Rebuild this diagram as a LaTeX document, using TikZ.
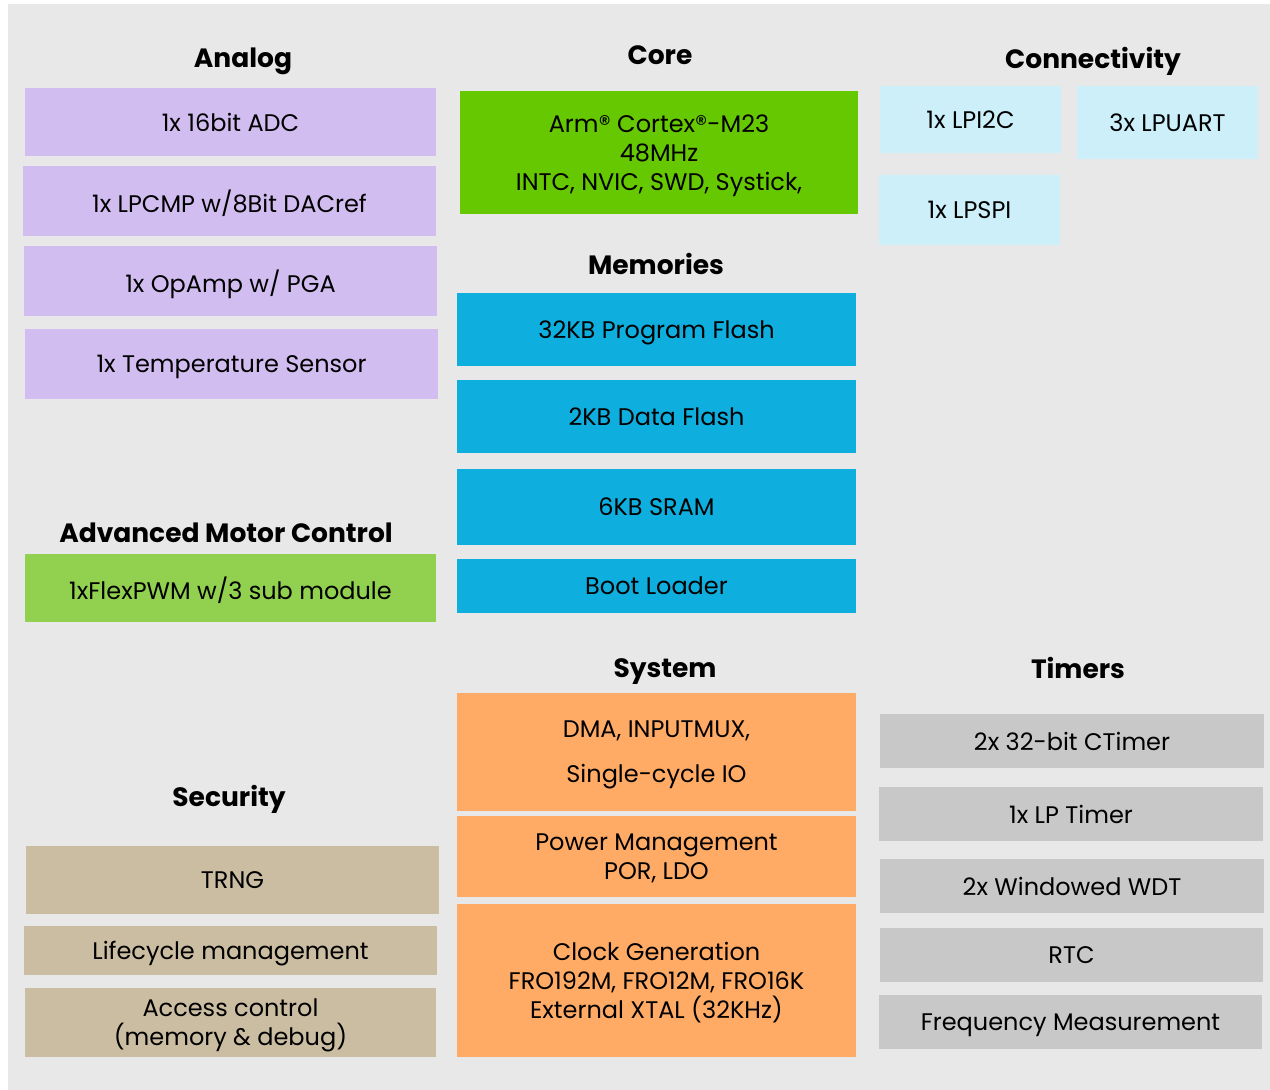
\documentclass[tikz,border=0pt]{standalone}
\usepackage{fontspec}
\setmainfont{Poppins}
\usepackage{xcolor}
\definecolor{mybg}{RGB}{232,232,232}
\definecolor{mypurple}{RGB}{210,189,240}
\definecolor{mycore}{RGB}{102,200,0}
\definecolor{mypwm}{RGB}{146,208,80}
\definecolor{myblue}{RGB}{14,174,222}
\definecolor{mylblue}{RGB}{204,239,250}
\definecolor{myorange}{RGB}{255,171,102}
\definecolor{mytan}{RGB}{203,189,161}
\definecolor{mygray}{RGB}{200,200,200}

\begin{document}
\begin{tikzpicture}[x=1pt,y=-1pt,
  blk/.style={inner sep=0pt, align=center, text depth=0pt, font=\fontsize{24}{29}\selectfont},
  ttl/.style={inner sep=0pt, text depth=0pt, font=\fontsize{26.5}{29}\selectfont\bfseries}]
\useasboundingbox (0,0) rectangle (1270,1090);
%background
\fill[mybg] (8,4) rectangle (1270,1090);

%analog
\node[ttl] (analog) at (243,58) {Analog};
\node[blk, fill=mypurple, minimum width=411pt, minimum height=68pt] (adc) at (230.5,122) {1x 16bit ADC};
\node[blk, fill=mypurple, minimum width=413pt, minimum height=70pt] (lpcmp) at (229.5,201) {1x LPCMP w/8Bit DACref};
\node[blk, fill=mypurple, minimum width=413pt, minimum height=70pt] (opamp) at (230.5,281) {1x OpAmp w/ PGA};
\node[blk, fill=mypurple, minimum width=413pt, minimum height=70pt] (tsens) at (231.5,364) {1x Temperature Sensor};

%motor control
\node[ttl] (motor) at (226,533) {Advanced Motor Control};
\node[blk, fill=mypwm, minimum width=411pt, minimum height=68pt] (pwm) at (230.5,588) {1xFlexPWM w/3 sub module};

%security
\node[ttl] (security) at (229,796) {Security};
\node[blk, fill=mytan, minimum width=413pt, minimum height=68pt] (trng) at (232.5,880) {TRNG};
\node[blk, fill=mytan, minimum width=413pt, minimum height=49pt] (life) at (230.5,950.5) {Lifecycle management};
\node[blk, fill=mytan, minimum width=411pt, minimum height=69pt] (access) at (230.5,1022.5) {Access control\\(memory \& debug)};

%core
\node[ttl] (core) at (660,55) {Core};
\node[blk, fill=mycore, minimum width=398pt, minimum height=123pt] (cpu) at (659,152.5) {Arm® Cortex®-M23\\48MHz\\INTC, NVIC, SWD, Systick,};

%memories
\node[ttl] (memories) at (656,264) {Memories};
\node[blk, fill=myblue, minimum width=399pt, minimum height=73pt] (pflash) at (656.5,329.5) {32KB Program Flash};
\node[blk, fill=myblue, minimum width=399pt, minimum height=73pt] (dflash) at (656.5,416.5) {2KB Data Flash};
\node[blk, fill=myblue, minimum width=399pt, minimum height=76pt] (sram) at (656.5,507) {6KB SRAM};
\node[blk, fill=myblue, minimum width=399pt, minimum height=54pt] (boot) at (656.5,586) {Boot Loader};

%system
\node[ttl] (system) at (665,668) {System};
\node[blk, fill=myorange, minimum width=399pt, minimum height=118pt] (dma) at (656.5,752) {DMA, INPUTMUX,\\[16pt]Single-cycle IO};
\node[blk, fill=myorange, minimum width=399pt, minimum height=81pt] (power) at (656.5,856.5) {Power Management\\POR, LDO};
\node[blk, fill=myorange, minimum width=399pt, minimum height=153pt] (clock) at (656.5,980.5) {Clock Generation\\FRO192M, FRO12M, FRO16K\\External XTAL (32KHz)};

%connectivity
\node[ttl] (conn) at (1093,58) {Connectivity};
\node[blk, fill=mylblue, minimum width=181pt, minimum height=67pt] (i2c) at (970.5,119.5) {1x LPI2C};
\node[blk, fill=mylblue, minimum width=181pt, minimum height=73pt] (uart) at (1167.5,122.5) {3x LPUART};
\node[blk, fill=mylblue, minimum width=181pt, minimum height=70pt] (spi) at (969.5,210) {1x LPSPI};

%timers
\node[ttl] (timers) at (1078,668) {Timers};
\node[blk, fill=mygray, minimum width=384pt, minimum height=54pt] (ctimer) at (1072,741) {2x 32-bit CTimer};
\node[blk, fill=mygray, minimum width=384pt, minimum height=54pt] (lptimer) at (1071,814) {1x LP Timer};
\node[blk, fill=mygray, minimum width=384pt, minimum height=54pt] (wdt) at (1072,886) {2x Windowed WDT};
\node[blk, fill=mygray, minimum width=383pt, minimum height=54pt] (rtc) at (1071.5,955) {RTC};
\node[blk, fill=mygray, minimum width=383pt, minimum height=54pt] (freq) at (1070.5,1022) {Frequency Measurement};

\end{tikzpicture}
\end{document}
